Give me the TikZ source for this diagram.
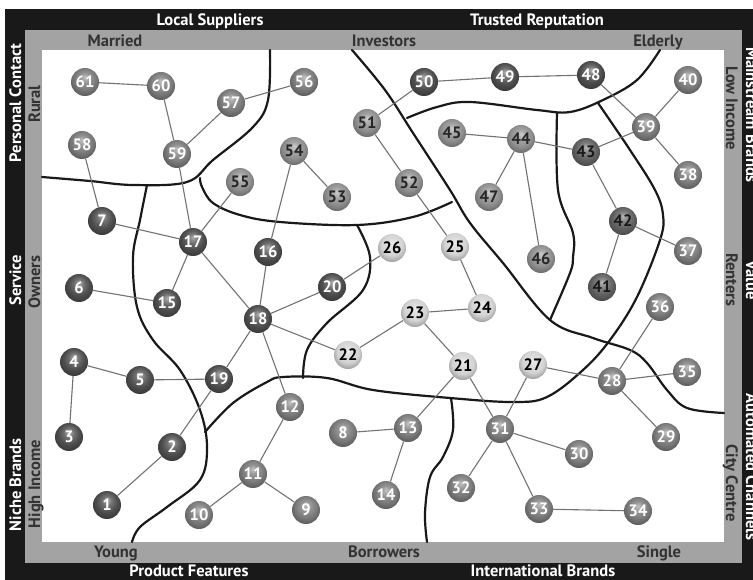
\documentclass[tikz,border=0pt]{standalone}
\usepackage{fontspec}
\setmainfont{PT Sans}

\makeatletter
\pgfdeclareradialshading[tikz@ball]{softball}{\pgfqpoint{0bp}{9bp}}{%
  color(0bp)=(tikz@ball!45!white);
  color(9bp)=(tikz@ball!80!white);
  color(19bp)=(tikz@ball);
  color(30bp)=(tikz@ball!72!black);
  color(50bp)=(tikz@ball!50!black)}
\makeatother

\tikzset{
  ball/.style={circle, minimum size=28pt, inner sep=0pt, shading=softball,
    font=\bfseries\fontsize{16.5}{16.5}\selectfont},
  darkball/.style={ball color=black!70, ball, text=white},
  midball/.style={ball color=black!52, ball, text=white},
  greyball/.style={ball color=black!44, ball, text=black!85},
  dimball/.style={ball color=black!62, ball, text=black!90},
  lightball/.style={ball color=black!17, ball, text=black},
  link/.style={draw=black!55, line width=1.1pt},
  border/.style={draw=black!90, line width=2.2pt, line cap=round},
  bandtext/.style={font=\bfseries\fontsize{16.5}{16.5}\selectfont, text=white, anchor=base, inner sep=0pt},
  greytext/.style={font=\bfseries\fontsize{16.5}{16.5}\selectfont, text=black!80, anchor=base, inner sep=0pt},
}

\begin{document}
\begin{tikzpicture}[x=1pt, y=-1pt]
  \clip (0,0) rectangle (753,580);
  \fill[white] (0,0) rectangle (753,580);

  \fill[black!90] (5,9) rectangle (760,590);
  \fill[black!36] (25,30) rectangle (742,563);
  \fill[white] (42,50) rectangle (724,542);

  \node[bandtext] (ls) at (210,26) {Local Suppliers};
  \node[bandtext] (tr) at (537,26) {Trusted Reputation};
  \node[bandtext] (pf) at (189,576) {Product Features};
  \node[bandtext] (ib) at (543,576) {International Brands};
  \node[bandtext, rotate=90] (pc) at (21,103) {Personal Contact};
  \node[bandtext, rotate=90] (sv) at (21,280) {Service};
  \node[bandtext, rotate=90] (nb) at (21,485) {Niche Brands};
  \node[bandtext, rotate=-90] (mb) at (746,115) {Mainstream Brands};
  \node[bandtext, rotate=-90] (va) at (746,280) {Value};
  \node[bandtext, rotate=-90] (ac) at (746,467) {Automated Channels};

  \node[greytext] (ma) at (115,47) {Married};
  \node[greytext] (iv) at (384,47) {Investors};
  \node[greytext] (el) at (658,47) {Elderly};
  \node[greytext] (yo) at (116,557) {Young};
  \node[greytext] (bo) at (384,557) {Borrowers};
  \node[greytext] (si) at (659,557) {Single};
  \node[greytext, rotate=90] (ru) at (40,104) {Rural};
  \node[greytext, rotate=90] (ow) at (40,282) {Owners};
  \node[greytext, rotate=90] (hi) at (40,484) {High Income};
  \node[greytext, rotate=-90] (li) at (726,108) {Low Income};
  \node[greytext, rotate=-90] (re) at (726,280) {Renters};
  \node[greytext, rotate=-90] (cc) at (726,483) {City Centre};

  \draw[border] plot[smooth, tension=0.6] coordinates {(42,177) (90,181) (133,185) (187,182) (213,160) (253,127) (268,100) (270,50)};
  \draw[border] plot[smooth, tension=0.6] coordinates {(200,178) (202,187) (213,203) (240,215) (280,222) (357,225) (413,217) (452,202)};
  \draw[border] plot[smooth, tension=0.6] coordinates {(352,50) (385,90) (413,133) (450,190) (470,223) (503,263) (550,320) (593,338) (630,350) (647,363) (667,390) (687,408) (724,413)};
  \draw[border] plot[smooth, tension=0.6] coordinates {(557,113) (558,190) (573,233) (573,257) (570,273) (550,320)};
  \draw[border] plot[smooth, tension=0.6] coordinates {(660,50) (637,80) (603,100) (570,112) (537,110) (470,102) (437,107) (407,118)};
  \draw[border] plot[smooth, tension=0.6] coordinates {(598,103) (630,150) (655,190) (663,215) (660,240) (637,297) (610,340) (583,370) (547,397) (513,402) (450,398) (373,390) (327,378) (283,377) (267,382) (233,403) (205,432)};
  \draw[border] plot[smooth, tension=0.6] coordinates {(147,185) (140,220) (133,257) (137,307) (153,340) (180,370) (200,410) (207,447) (200,480) (167,507) (140,527) (132,542)};
  \draw[border] plot[smooth, tension=0.6] coordinates {(357,225) (370,257) (363,290) (327,323) (307,350) (303,378)};
  \draw[border] plot[smooth, tension=0.6] coordinates {(451,398) (453,430) (443,457) (430,477) (425,513) (427,542)};

  \foreach \n/\x/\y in {1/107/505, 2/172/447, 3/69/437, 4/74/362, 5/140/380, 6/79/288,
      7/102/221, 15/167/303, 16/268/252, 17/193/242, 18/258/319, 19/219/379,
      20/332/287, 48/591/75, 49/505/77, 50/424/82}
    \node[darkball] (n\n) at (\x,\y) {\n};
  \foreach \n/\x/\y in {8/343/433, 9/306/510, 10/199/515, 11/253/474, 12/290/407,
      13/408/428, 14/386/495, 28/612/381, 29/666/437, 30/579/454, 31/500/429,
      32/461/488, 33/539/509, 34/638/511, 35/687/372, 36/660/307, 37/688/251,
      38/688/175, 39/646/127, 40/688/80, 56/304/82, 57/231/103, 58/82/145,
      59/177/154, 60/161/86, 61/85/82}
    \node[midball] (n\n) at (\x,\y) {\n};
  \foreach \n/\x/\y in {44/521/139, 45/452/133, 46/541/259, 47/489/197, 51/367/123,
      52/409/183, 53/337/197, 54/294/151, 55/240/182}
    \node[greyball] (n\n) at (\x,\y) {\n};
  \foreach \n/\x/\y in {41/602/287, 42/623/221, 43/586/152}
    \node[dimball] (n\n) at (\x,\y) {\n};
  \foreach \n/\x/\y in {21/463/366, 22/348/355, 23/415/313, 24/482/308, 25/455/247,
      26/392/248, 27/533/365}
    \node[lightball] (n\n) at (\x,\y) {\n};

  \foreach \a/\b in {61/60, 60/59, 59/57, 57/56, 58/7, 59/17, 55/17, 54/16, 54/53,
      7/17, 17/15, 17/18, 15/6, 16/18, 18/20, 20/26, 18/22, 18/19, 18/12, 19/5,
      19/2, 5/4, 4/3, 2/1, 12/11, 11/10, 11/9, 22/23, 23/24, 23/21, 24/25, 25/52,
      52/51, 51/50, 50/49, 49/48, 48/39, 39/40, 39/38, 39/43, 43/44, 44/45, 44/47,
      44/46, 43/42, 42/37, 42/41, 21/13, 21/31, 13/8, 13/14, 31/27, 31/30, 31/32,
      31/33, 33/34, 27/28, 28/36, 28/35, 28/29}
    \draw[link] (n\a) -- (n\b);
\end{tikzpicture}
\end{document}
